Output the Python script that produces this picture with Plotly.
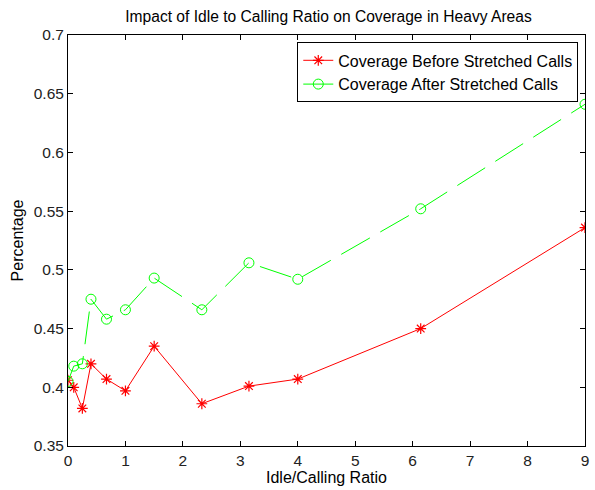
import plotly.graph_objects as go

# Idle-to-calling ratios sampled
ratio = [0, 0.1, 0.25, 0.4, 0.67, 1.0, 1.5, 2.33, 3.15, 4.0, 6.14, 9.0]

# Coverage (fraction) before and after stretched calls
coverage_before = [0.406, 0.400, 0.382, 0.420, 0.407, 0.397, 0.435, 0.386, 0.401, 0.407, 0.450, 0.536]
coverage_after = [0.405, 0.418, 0.420, 0.475, 0.458, 0.466, 0.493, 0.466, 0.506, 0.492, 0.552, 0.641]

y_ticks = [0.35, 0.4, 0.45, 0.5, 0.55, 0.6, 0.65, 0.7]
y_tick_text = ["0.35", "0.4", "0.45", "0.5", "0.55", "0.6", "0.65", "0.7"]
x_ticks = list(range(0, 10))

FONT = "Liberation Sans, Arial, Helvetica, sans-serif"

fig = go.Figure()
fig.add_trace(go.Scatter(
    x=ratio, y=coverage_before, name="Coverage Before Stretched Calls",
    mode="lines+markers",
    line=dict(color="#ff0000", width=1),
    marker=dict(symbol="asterisk-open", size=9, color="#ff0000",
                line=dict(color="#ff0000", width=1.2)),
))
fig.add_trace(go.Scatter(
    x=ratio, y=coverage_after, name="Coverage After Stretched Calls",
    mode="lines+markers",
    line=dict(color="#00ff00", width=1, dash="33px,12px"),
    marker=dict(symbol="circle-open", size=10, color="#00ff00",
                line=dict(color="#00ff00", width=1)),
))

axis_common = dict(
    showline=True, linecolor="black", linewidth=1, mirror="ticks",
    ticks="inside", ticklen=5, tickcolor="black", tickwidth=1,
    showgrid=False, zeroline=False,
    tickfont=dict(family=FONT, size=15.5, color="#222222"),
)

fig.update_layout(
    width=595, height=490,
    margin=dict(l=68, r=6, t=35, b=44),
    paper_bgcolor="white", plot_bgcolor="white",
    font=dict(family=FONT, size=15, color="black"),
    title=dict(text="Impact of Idle to Calling Ratio on Coverage in Heavy Areas",
               x=(68 + 589) / 2 / 595, xanchor="center", y=1 - 17 / 490, yanchor="middle",
               font=dict(family=FONT, size=15.6, color="black")),
    xaxis=dict(range=[0, 9], tickvals=x_ticks,
               title=dict(text="Idle/Calling Ratio", standoff=4,
                          font=dict(family=FONT, size=16)),
               **axis_common),
    yaxis=dict(range=[0.35, 0.7], tickvals=y_ticks, ticktext=y_tick_text,
               title=dict(text="Percentage", standoff=6,
                          font=dict(family=FONT, size=16)),
               **axis_common),
    legend=dict(x=0.987, xanchor="right", y=0.982, yanchor="top",
                bgcolor="white", bordercolor="black", borderwidth=1,
                font=dict(family=FONT, size=16, color="black"),
                tracegroupgap=0),
    showlegend=True,
)

fig.write_html("out.html")
